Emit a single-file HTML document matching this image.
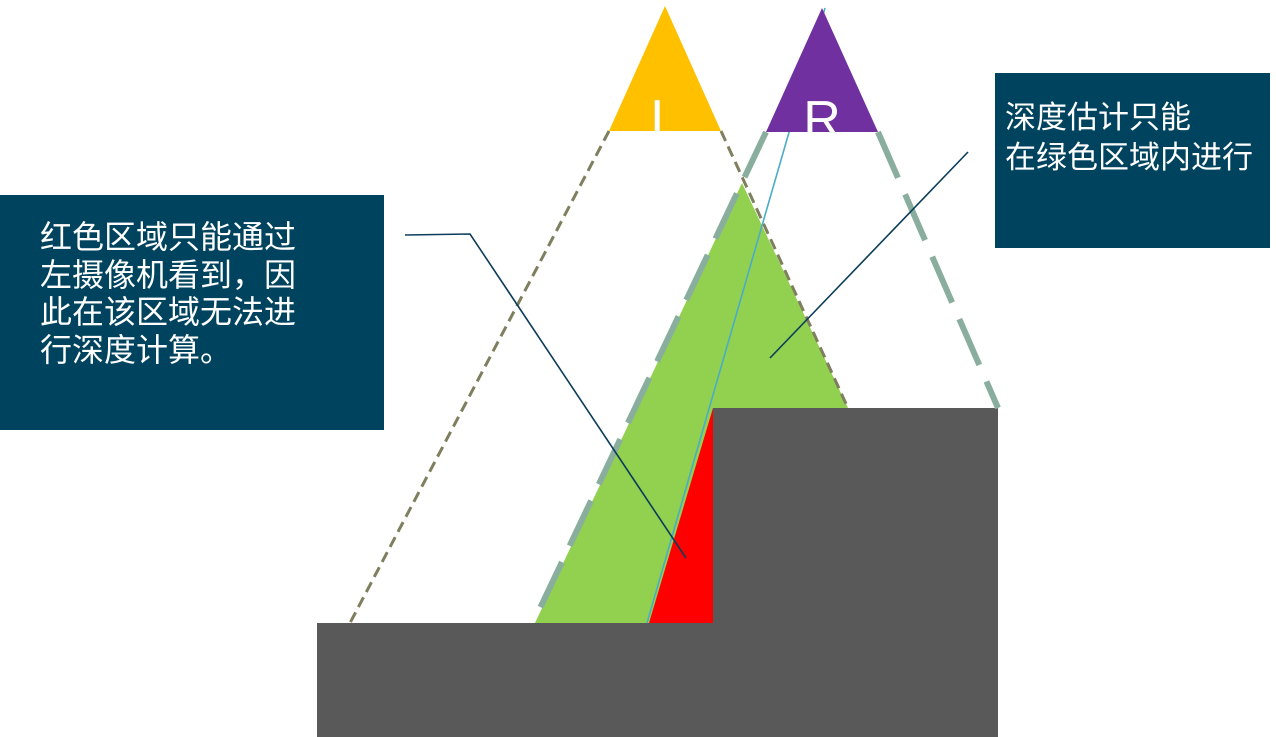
<!DOCTYPE html>
<html><head><meta charset="utf-8"><style>
html,body{margin:0;padding:0;background:#fff;}
.w{position:relative;width:1276px;height:737px;overflow:hidden;font-family:"Liberation Sans","Noto Sans CJK SC",sans-serif;}
.box{position:absolute;background:#00435f;color:#fff;font-size:32px;line-height:37.5px;}
</style></head><body><div class="w">
<svg width="1276" height="737" style="position:absolute;left:0;top:0">
<polygon points="742,183 848,408 713,408 713,623 535,623" fill="#92d050"/>
<polygon points="713,408 713,623 649,623" fill="#ff0000"/>
<rect x="317" y="623" width="681" height="114" fill="#595959"/>
<rect x="713" y="408" width="285" height="216" fill="#595959"/>
<line x1="609" y1="131" x2="350" y2="623" stroke="#7f7f5f" stroke-width="3" stroke-dasharray="11,6"/>
<line x1="721" y1="131" x2="848" y2="408" stroke="#7f7f5f" stroke-width="3" stroke-dasharray="11,6"/>
<line x1="766" y1="132" x2="533" y2="623" stroke="#8aae9e" stroke-width="6" stroke-dasharray="50,18"/>
<line x1="878" y1="132" x2="998" y2="408" stroke="#8aae9e" stroke-width="6" stroke-dasharray="50,18"/>
<line x1="825" y1="8" x2="647" y2="623" stroke="#4bacc6" stroke-width="1.6"/>
<polygon points="665,6 721,131 609,131" fill="#ffc000"/>
<polygon points="822,8 878,132 766,132" fill="#7030a0"/>
<text x="665" y="136" fill="#fff" font-size="52" text-anchor="middle" font-family="Liberation Sans,sans-serif">L</text>
<text x="822" y="137" fill="#fff" font-size="52" text-anchor="middle" font-family="Liberation Sans,sans-serif">R</text>
<polyline points="405,235 470,234 686,558" fill="none" stroke="#0b3d5a" stroke-width="1.6"/>
<line x1="968" y1="152" x2="770" y2="358" stroke="#0b3d5a" stroke-width="1.6"/>
</svg>
<div class="box" style="left:0;top:195px;width:344px;height:197px;padding:24px 0 14px 40px;">红色区域只能通过<br>左摄像机看到，因<br>此在该区域无法进<br>行深度计算。</div>
<div class="box" style="left:995px;top:73px;width:265px;height:150px;padding:25px 0 0 10px;font-size:31px;line-height:40px;white-space:nowrap;">深度估计只能<br>在绿色区域内进行</div>
</div></body></html>
